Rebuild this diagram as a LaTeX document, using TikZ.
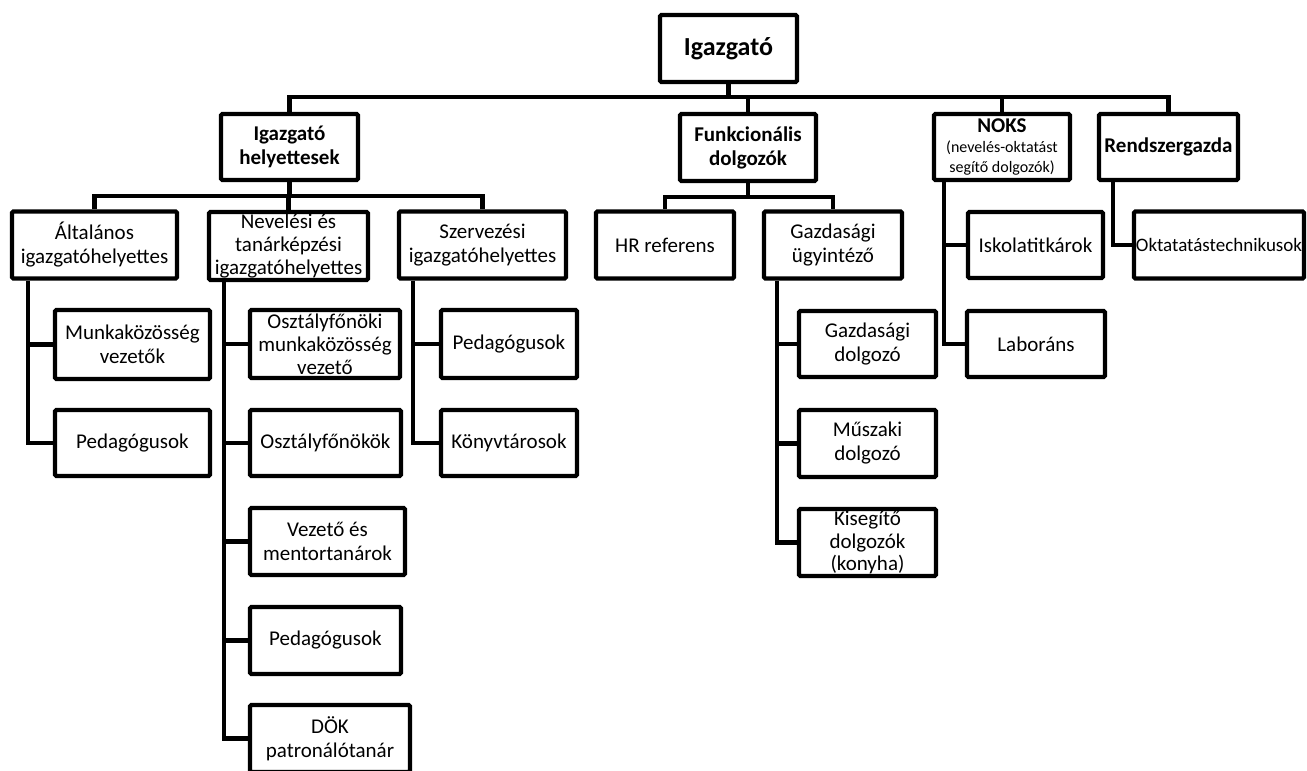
\documentclass[tikz,border=0pt]{standalone}
\usepackage{fontspec}
\setmainfont{Carlito}
\begin{document}
\begin{tikzpicture}[x=0.75pt,y=-0.75pt,
  box/.style={draw, line width=3.1pt, rounded corners=1pt, align=center, inner sep=0pt,
    font=\fontsize{15.75pt}{18pt}\selectfont},
  hb/.style={font=\fontsize{15.75pt}{18pt}\selectfont\bfseries},
  tight/.style={font=\fontsize{15.75pt}{17.2pt}\selectfont},
  bw/.style={minimum width=(#1-4)*0.75pt},
  bh/.style={minimum height=(#1-4)*0.75pt},
  conn/.style={line width=3.1pt}]
\fill[white] (0,0) rectangle (1307,771);
\useasboundingbox (0,0) rectangle (1307,771);

% level 1
\node[box, bw=141, bh=71, font=\fontsize{19.5pt}{22pt}\selectfont\bfseries] (top) at (728.5,48.5) {Igazgató};
% level 2
\node[box, hb, bw=141, bh=70] (ih) at (289.5,147) {Igazgató\\helyettesek};
\node[box, hb, bw=140, bh=71] (fd) at (748,147.5) {Funkcionális\\dolgozók};
\node[box, bw=140, bh=70, font=\fontsize{12pt}{15pt}\selectfont] (noks) at (1002,147) {{\fontsize{15.75pt}{15pt}\selectfont\bfseries NOKS}\\(nevelés-oktatást\\segítő dolgozók)};
\node[box, hb, bw=143, bh=70] (rg) at (1168.5,147) {Rendszergazda};
% level 3
\node[box, bw=169, bh=71] (alt) at (94.5,245) {Általános\\igazgatóhelyettes};
\node[box, tight, bw=163, bh=72] (nev) at (288.5,246) {Nevelési és\\tanárképzési\\igazgatóhelyettes};
\node[box, bw=171, bh=71] (szerv) at (482.5,245) {Szervezési\\igazgatóhelyettes};
\node[box, bw=142, bh=71] (hr) at (665,245) {HR referens};
\node[box, bw=142, bh=71] (gu) at (833,245) {Gazdasági\\ügyintéző};
\node[box, bw=139, bh=70] (isk) at (1035.5,245) {Iskolatitkárok};
\node[box, bw=174, bh=71, font=\fontsize{14.25pt}{17pt}\selectfont] (okt) at (1219,245) {Oktatatástechnikusok};
% level 4+
\node[box, bw=159, bh=73] (munk) at (132.5,344.5) {Munkaközösség\\vezetők};
\node[box, bw=159, bh=70] (ped1) at (132.5,443) {Pedagógusok};
\node[box, tight, bw=154, bh=72] (ofm) at (325,344) {Osztályfőnöki\\munkaközösség\\vezető};
\node[box, bw=155, bh=70] (ofk) at (325.5,443) {Osztályfőnökök};
\node[box, bw=159, bh=71] (vez) at (327.5,541.5) {Vezető és\\mentortanárok};
\node[box, bw=155, bh=71] (ped2) at (325.5,640.5) {Pedagógusok};
\node[box, bw=164, bh=71] (dok) at (330,738.5) {DÖK\\patronálótanár};
\node[box, bw=140, bh=72] (ped3) at (509,344) {Pedagógusok};
\node[box, bw=140, bh=70] (konyv) at (509,443) {Könyvtárosok};
\node[box, bw=141, bh=70] (gd) at (867.5,344) {Gazdasági\\dolgozó};
\node[box, bw=141, bh=71] (md) at (867.5,443.5) {Műszaki\\dolgozó};
\node[box, tight, bw=141, bh=71] (kd) at (867.5,542.5) {Kisegítő\\dolgozók\\(konyha)};
\node[box, bw=142, bh=70] (lab) at (1036,344) {Laboráns};

% buses
\coordinate (B) at (728,97);
\coordinate (C) at (289,196);
\coordinate (D) at (748,197);
\draw[conn] (top.south) -- (top.south |- B);
\draw[conn] (ih.north) |- (B) -| (rg.north);
\draw[conn] (fd.north) -- (fd.north |- B);
\draw[conn] (noks.north) -- (noks.north |- B);
\draw[conn] (alt.north) |- (C) -| (szerv.north);
\draw[conn] (ih.south) -- (ih.south |- C);
\draw[conn] (nev.north) -- (nev.north |- C);
\draw[conn] (hr.north) |- (D) -| (gu.north);
\draw[conn] (fd.south) -- (fd.south |- D);

% stems
\coordinate (s1) at (28,0);
\coordinate (s2) at (224,0);
\coordinate (s3) at (413,0);
\coordinate (s4) at (777,0);
\coordinate (s5) at (944,0);
\coordinate (s6) at (1113,0);
\draw[conn] (alt.south -| s1) |- (ped1.west);
\draw[conn] (s1 |- munk.west) -- (munk.west);
\draw[conn] (nev.south -| s2) |- (dok.west);
\draw[conn] (s2 |- ofm.west) -- (ofm.west);
\draw[conn] (s2 |- ofk.west) -- (ofk.west);
\draw[conn] (s2 |- vez.west) -- (vez.west);
\draw[conn] (s2 |- ped2.west) -- (ped2.west);
\draw[conn] (szerv.south -| s3) |- (konyv.west);
\draw[conn] (s3 |- ped3.west) -- (ped3.west);
\draw[conn] (gu.south -| s4) |- (kd.west);
\draw[conn] (s4 |- gd.west) -- (gd.west);
\draw[conn] (s4 |- md.west) -- (md.west);
\draw[conn] (noks.south -| s5) |- (lab.west);
\draw[conn] (s5 |- isk.west) -- (isk.west);
\draw[conn] (rg.south -| s6) |- (okt.west);
\end{tikzpicture}
\end{document}
